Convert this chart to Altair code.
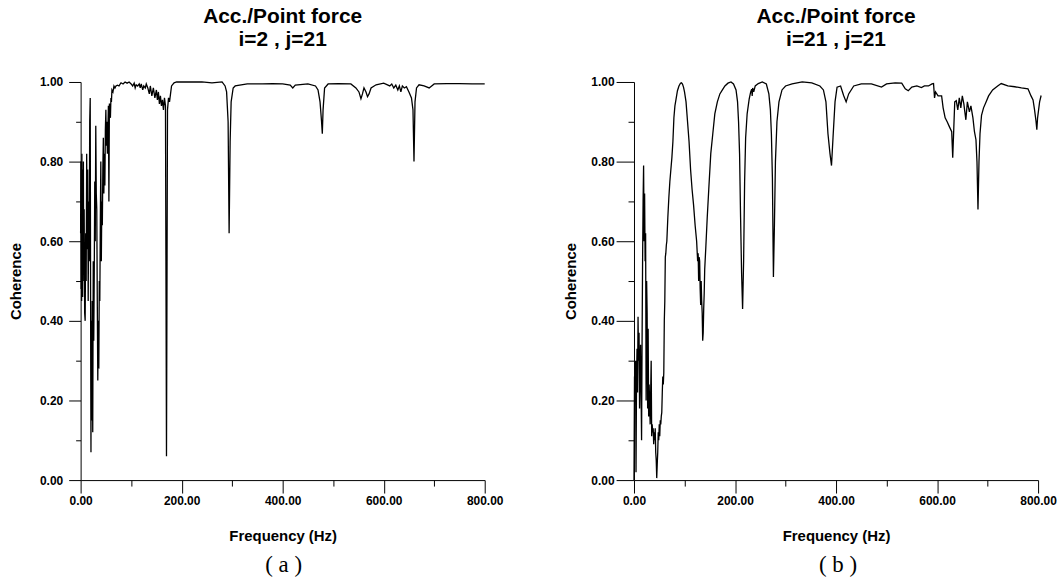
import altair as alt
import pandas as pd

# ---- panel (a): i=2, j=21 ----
left_freq = [
    0, 0.5, 1, 1.5, 2, 2.5, 3, 3.5, 4, 4.5,
    5, 5.5, 6, 7, 8, 9, 10, 11, 12, 13,
    14, 15, 16, 17, 18, 19, 20, 20.5, 21, 22,
    23, 24, 25, 26, 27, 28, 29, 30, 31, 32,
    33, 34, 35, 36, 37, 38, 39, 40, 41, 42,
    43, 44, 45, 46, 47, 48, 49, 50, 51, 52,
    53, 54, 55, 56, 57, 58, 59, 60, 61, 62,
    64, 66, 68, 70, 73, 76, 80, 84, 88, 92,
    96, 100, 103, 106, 108, 110, 113, 116, 118, 120,
    123, 125, 128, 130, 133, 136, 138, 141, 144, 147,
    150, 152, 154, 156, 158, 160, 162, 164, 166, 168,
    170, 172, 174, 176, 178, 180, 185, 190, 200, 220,
    240, 260, 280, 286, 289, 292, 294, 296, 298, 302,
    306, 330, 360, 380, 400, 415, 420, 425, 450, 465,
    470, 474, 477, 478.5, 480, 483, 490, 510, 535, 545,
    551, 555, 558, 561, 565, 568, 571, 575, 585, 600,
    612, 616, 620, 624, 628, 631, 634, 637, 641, 645,
    650, 655, 658, 660, 662, 665, 670, 680, 690, 695,
    700, 725, 750, 775, 800,
]
left_coh = [
    0.62, 0.80, 0.48, 0.75, 0.45, 0.82, 0.52, 0.78, 0.46, 0.70,
    0.50, 0.80, 0.55, 0.68, 0.42, 0.40, 0.62, 0.50, 0.82, 0.58,
    0.78, 0.45, 0.70, 0.55, 0.90, 0.96, 0.30, 0.07, 0.40, 0.15,
    0.45, 0.12, 0.55, 0.35, 0.52, 0.75, 0.60, 0.89, 0.72, 0.68,
    0.45, 0.25, 0.40, 0.28, 0.50, 0.45, 0.65, 0.80, 0.55, 0.70,
    0.64, 0.78, 0.86, 0.72, 0.82, 0.74, 0.88, 0.93, 0.84, 0.90,
    0.82, 0.88, 0.94, 0.70, 0.946, 0.92, 0.91, 0.96, 0.95, 0.98,
    0.975, 0.99, 0.985, 0.99, 0.992, 0.99, 0.998, 0.995, 1.0, 0.997,
    1.0, 0.995, 0.99, 0.997, 0.985, 0.993, 0.99, 0.995, 0.985, 0.995,
    0.98, 0.99, 0.985, 0.995, 0.985, 0.97, 0.99, 0.965, 0.985, 0.96,
    0.98, 0.955, 0.975, 0.945, 0.965, 0.94, 0.955, 0.93, 0.96, 0.94,
    0.06, 0.93, 0.96, 0.95, 0.97, 0.99, 0.998, 1.0, 1.0, 1.0,
    1.0, 0.998, 1.0, 0.99, 0.975, 0.90, 0.62, 0.85, 0.95, 0.985,
    0.99, 0.995, 0.995, 0.996, 0.995, 0.992, 0.985, 0.992, 0.995, 0.99,
    0.98, 0.95, 0.90, 0.87, 0.93, 0.985, 0.995, 0.996, 0.995, 0.985,
    0.975, 0.958, 0.97, 0.985, 0.975, 0.963, 0.97, 0.985, 0.993, 0.997,
    0.99, 0.995, 0.985, 0.992, 0.98, 0.99, 0.975, 0.99, 0.985, 0.988,
    0.975, 0.96, 0.93, 0.80, 0.95, 0.985, 0.993, 0.99, 0.985, 0.99,
    0.995, 0.996, 0.996, 0.995, 0.995,
]

# ---- panel (b): i=21, j=21 ----
right_freq = [
    0, 1, 2, 3, 4, 5, 6, 7, 8, 9,
    10, 11, 12, 13, 14, 15, 16, 17, 18, 19,
    20, 21, 22, 23, 24, 25, 26, 27, 28, 29,
    30, 31, 32, 33, 34, 35, 36, 37, 38, 39,
    40, 41, 42, 43, 44, 45, 46, 47, 48, 49,
    50, 51, 52, 53, 54, 55, 56, 57, 58, 59,
    60, 61, 62, 63, 64, 65, 67, 69, 71, 73,
    75, 77, 79, 81, 83, 86, 89, 92, 94, 96,
    98, 100, 103, 106, 109, 112, 115, 118, 121, 124,
    126, 127, 128, 129, 130, 131, 132, 133, 134, 135,
    136, 137, 138, 139, 140, 142, 145, 148, 152, 156,
    160, 165, 170, 175, 180, 186, 192, 197, 202, 205,
    207, 209, 211, 213, 215, 217, 219, 221, 224, 228,
    231, 233, 234, 235, 237, 240, 246, 254, 262, 267,
    270, 272, 274, 276, 278, 280, 283, 287, 293, 300,
    313, 333, 352, 368, 375, 380, 384, 388, 391, 394,
    398, 402, 409, 415, 420, 425, 435, 450, 470, 490,
    500, 517, 530, 537, 543, 550, 560, 569, 575, 583,
    590, 593, 595, 597, 602, 609, 612, 616, 620, 625,
    629, 631, 633, 635, 638, 641, 644, 647, 650, 653,
    657, 660, 664, 667, 671, 674, 677, 679, 681, 683,
    685, 688, 692, 697, 702, 710, 720, 727, 740, 754,
    767, 780, 786, 790, 793, 796, 797.5, 799, 801, 803,
    806,
]
right_coh = [
    0.0, 0.26, 0.20, 0.30, 0.02, 0.25, 0.33, 0.22, 0.41, 0.30,
    0.37, 0.18, 0.28, 0.34, 0.22, 0.10, 0.35, 0.55, 0.70, 0.79,
    0.60, 0.72, 0.55, 0.62, 0.20, 0.50, 0.42, 0.18, 0.38, 0.16,
    0.24, 0.19, 0.14, 0.22, 0.30, 0.11, 0.14, 0.12, 0.13, 0.09,
    0.12, 0.10, 0.13, 0.07, 0.05, 0.005, 0.04, 0.07, 0.12, 0.10,
    0.14, 0.11, 0.15, 0.14, 0.16, 0.17, 0.22, 0.26, 0.24, 0.27,
    0.40, 0.45, 0.56, 0.57, 0.59, 0.60, 0.66, 0.71, 0.75, 0.78,
    0.81, 0.85, 0.91, 0.94, 0.955, 0.978, 0.99, 0.997, 0.998, 0.995,
    0.987, 0.975, 0.95, 0.90, 0.85, 0.78, 0.73, 0.69, 0.64, 0.60,
    0.55, 0.57, 0.50, 0.56, 0.55, 0.48, 0.44, 0.50, 0.45, 0.42,
    0.35, 0.37, 0.43, 0.47, 0.53, 0.58, 0.66, 0.73, 0.82, 0.87,
    0.92, 0.95, 0.97, 0.98, 0.99, 0.997, 1.0, 0.995, 0.98, 0.95,
    0.90, 0.82, 0.66, 0.52, 0.43, 0.55, 0.75, 0.86, 0.92, 0.957,
    0.975, 0.982, 0.965, 0.985, 0.975, 0.99, 0.996, 1.0, 0.995, 0.97,
    0.93, 0.87, 0.76, 0.51, 0.64, 0.80, 0.90, 0.95, 0.98, 0.99,
    0.995, 1.0, 0.998, 0.99, 0.98, 0.95, 0.87, 0.82, 0.79, 0.86,
    0.95, 0.987, 0.99, 0.966, 0.95, 0.97, 0.99, 0.995, 0.995, 0.987,
    0.995, 0.998, 0.997, 0.983, 0.978, 0.987, 0.99, 0.986, 0.99, 0.99,
    0.995, 0.996, 0.96, 0.975, 0.965, 0.965, 0.935, 0.91, 0.90, 0.886,
    0.875, 0.81, 0.88, 0.95, 0.953, 0.93, 0.96, 0.935, 0.965, 0.945,
    0.905, 0.95, 0.925, 0.94, 0.91, 0.875, 0.855, 0.80, 0.68, 0.80,
    0.87, 0.916, 0.935, 0.95, 0.965, 0.98, 0.99, 0.996, 0.99, 0.988,
    0.985, 0.983, 0.965, 0.955, 0.93, 0.90, 0.88, 0.91, 0.93, 0.95,
    0.966,
]

x_ticks = [0, 100, 200, 300, 400, 500, 600, 700, 800]
y_ticks = [0.0, 0.1, 0.2, 0.3, 0.4, 0.5, 0.6, 0.7, 0.8, 0.9, 1.0]

titles_a = ["Acc./Point force", "i=2 , j=21"]
titles_b = ["Acc./Point force", "i=21 , j=21"]

LABEL_FONT = "Liberation Sans Narrow, Arial Narrow, Liberation Sans"
SANS = "Liberation Sans, Arial"


def make_panel(freq, coh, title_lines, tag, y_major, y_minor, y_label_pad, y_title_pad):
    df = pd.DataFrame({"freq": freq, "coh": coh})
    x_axis = alt.Axis(
        values=x_ticks,
        labelExpr="datum.value % 200 == 0 ? format(datum.value, '.2f') : ''",
        tickSize={"condition": {"test": "datum.value % 200 == 0", "value": 13}, "value": 6},
        title="Frequency (Hz)",
        titleFont=SANS, titleFontSize=15, titleFontWeight="bold", titlePadding=22,
        labelFont=LABEL_FONT, labelFontSize=12, labelFontWeight="bold",
        labelPadding=3, labelColor="black", titleColor="black",
        domainColor="black", tickColor="black", grid=False, labelFlush=False,
        labelOverlap=False,
    )
    y_axis = alt.Axis(
        values=y_ticks,
        labelExpr="round(datum.value * 10) % 2 == 0 ? format(datum.value, '.2f') : ''",
        tickSize={"condition": {"test": "round(datum.value * 10) % 2 == 0", "value": y_major},
                  "value": y_minor},
        title="Coherence",
        titleFont=SANS, titleFontSize=15, titleFontWeight="bold", titlePadding=y_title_pad,
        labelFont=LABEL_FONT, labelFontSize=12, labelFontWeight="bold",
        labelPadding=y_label_pad, labelColor="black", titleColor="black",
        domainColor="black", tickColor="black", grid=False, labelFlush=False,
        labelOverlap=False,
    )
    line = alt.Chart(df).mark_line(color="black", strokeWidth=1.3, clip=False).encode(
        x=alt.X("freq:Q", scale=alt.Scale(domain=[0, 800], nice=False, zero=False), axis=x_axis),
        y=alt.Y("coh:Q", scale=alt.Scale(domain=[0, 1], nice=False), axis=y_axis),
    ).properties(
        width=406,
        height=400,
        title=alt.Title(
            title_lines, anchor="middle", font=SANS, fontSize=21, fontWeight="bold",
            lineHeight=23, offset=26, color="black",
        ),
    )
    return alt.vconcat(
        line,
        spacing=0,
        title=alt.Title(tag, orient="bottom", anchor="middle", font="Liberation Serif",
                        fontSize=23, fontWeight="normal", offset=10, dx=28, color="black"),
    )


panel_a = make_panel(left_freq, left_coh, titles_a, "( a )", 12, 5, 6, 16)
panel_b = make_panel(right_freq, right_coh, titles_b, "( b )", 18, 6, 2, 12)

chart = alt.hconcat(panel_a, panel_b, spacing=60).properties(
    padding={"left": 8, "top": 5, "right": 0, "bottom": 0},
    background="white",
).configure_view(stroke=None)

chart.save("out.html", embed_options={"renderer": "svg", "actions": False})
